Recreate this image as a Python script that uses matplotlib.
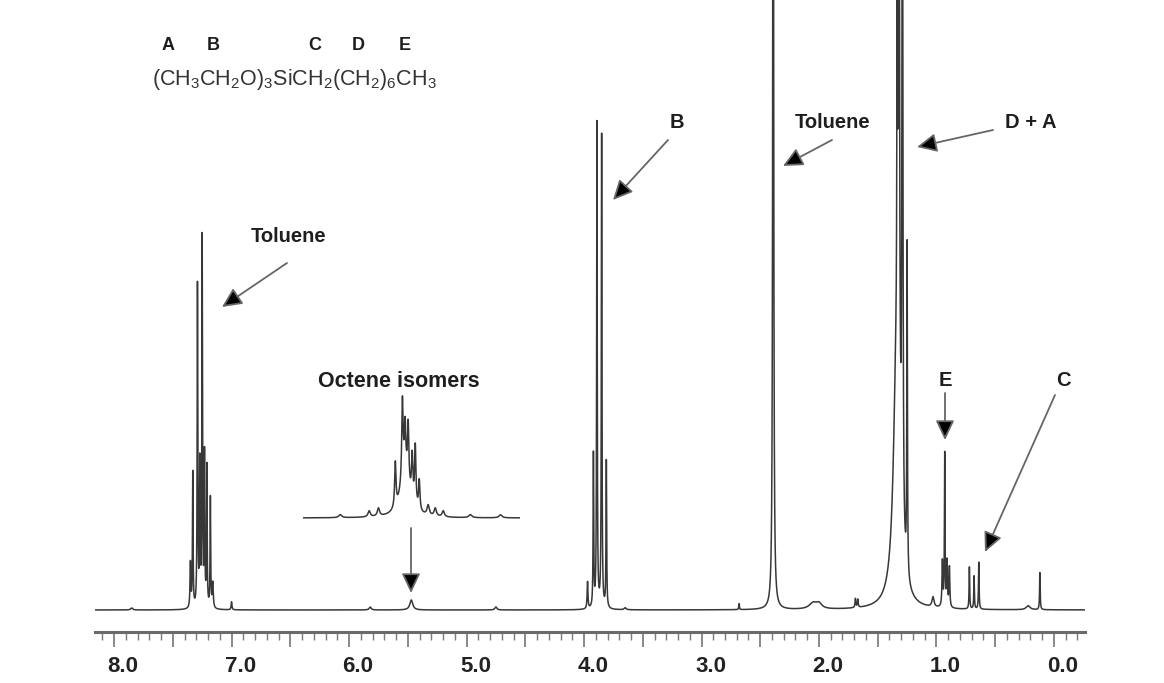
import numpy as np
import matplotlib
matplotlib.use("Agg")
import matplotlib.pyplot as plt
from matplotlib.ticker import MultipleLocator
from matplotlib.transforms import ScaledTranslation

plt.rcParams['font.family'] = ['Liberation Sans', 'DejaVu Sans']
plt.rcParams['mathtext.fontset'] = 'custom'
plt.rcParams['mathtext.rm'] = 'Liberation Sans'
plt.rcParams['mathtext.it'] = 'Liberation Sans'

# peak lists: shift (ppm), height (arb.), half width (ppm)
toluene_ar_ppm = [7.35, 7.33, 7.29, 7.27, 7.25, 7.23, 7.21, 7.18, 7.16, 7.00]
toluene_ar_h = [45, 135, 322, 140, 368, 150, 140, 110, 25, 8]
toluene_ar_w = [0.004, 0.003, 0.003, 0.003, 0.003, 0.003, 0.003, 0.003, 0.005, 0.004]

b_ppm = [3.97, 3.92, 3.89, 3.85, 3.81]
b_h = [27, 153, 485, 473, 147]
b_w = [0.004, 0.003, 0.003, 0.003, 0.003]

toluene_me_ppm = [2.39]
toluene_me_h = [1200]
toluene_me_w = [0.004]

da_ppm = [1.34, 1.335, 1.32, 1.29, 1.25]
da_h = [240, 330, 1200, 900, 330]
da_w = [0.032, 0.003, 0.004, 0.004, 0.003]

e_ppm = [1.03, 0.95, 0.93, 0.91, 0.89]
e_h = [10, 45, 153, 45, 40]
e_w = [0.01, 0.004, 0.003, 0.004, 0.004]

c_ppm = [0.72, 0.68, 0.64]
c_h = [42, 33, 47]
c_w = [0.003, 0.003, 0.003]

minor_ppm = [7.85, 5.82, 5.47, 4.75, 3.65, 2.68, 2.05, 2.00, 1.69, 1.67, 0.22, 0.12]
minor_h = [2, 3, 10, 3, 2, 6, 6, 5, 9, 8, 4, 37]
minor_w = [0.01, 0.01, 0.015, 0.01, 0.01, 0.003, 0.04, 0.03, 0.004, 0.004, 0.02, 0.003]

# expanded octene region (inset)
oct_ppm = [5.611, 5.546, 5.525, 5.487, 5.471, 5.465, 5.465, 5.458, 5.449, 5.442, 5.433,
           5.413, 5.397, 5.379, 5.318, 5.25]
oct_h = [3, 6, 8, 45, 80, 45, 45, 58, 44, 60, 30, 10, 8, 6, 3, 3]
oct_w = [0.004, 0.003, 0.003, 0.0018, 0.0018, 0.0018, 0.012, 0.0018, 0.0018, 0.0018,
         0.0018, 0.003, 0.003, 0.003, 0.004, 0.004]


def lorentz_sum(x, centers, heights, widths):
    y = np.zeros_like(x)
    for c, h, w in zip(centers, heights, widths):
        y += h / (1.0 + ((x - c) / w) ** 2)
    return y


ppm = np.linspace(8.2, -0.3, 80000)
spec = np.zeros_like(ppm)
for c, h, w in [(toluene_ar_ppm, toluene_ar_h, toluene_ar_w),
                (b_ppm, b_h, b_w),
                (toluene_me_ppm, toluene_me_h, toluene_me_w),
                (da_ppm, da_h, da_w),
                (e_ppm, e_h, e_w),
                (c_ppm, c_h, c_w),
                (minor_ppm, minor_h, minor_w)]:
    spec += lorentz_sum(ppm, c, h, w)

W, H = 1164, 683
fig = plt.figure(figsize=(W / 100, H / 100), dpi=100)
ax = fig.add_axes([95 / W, 51 / H, 990 / W, 632 / H])
ax.plot(ppm, spec, color='#383838', lw=1.1)
ax.set_xlim(8.162, -0.264)
ax.set_ylim(-22, 610)

for s in ['top', 'left', 'right']:
    ax.spines[s].set_visible(False)
ax.spines['bottom'].set_color('#6a6a6a')
ax.spines['bottom'].set_linewidth(2.2)
ax.set_yticks([])
ax.xaxis.set_major_locator(MultipleLocator(0.5))
ax.xaxis.set_minor_locator(MultipleLocator(0.1))
ax.tick_params(axis='x', which='major', length=11, width=1.1, color='#6a6a6a',
               direction='out', pad=6)
ax.tick_params(axis='x', which='minor', length=6, width=1.0, color='#7a7a7a',
               direction='out')
ax.set_xticklabels(['' if abs(v - round(v)) > 1e-6 else f'{v:.1f}'
                    for v in ax.get_xticks()])
offset = ScaledTranslation(9 / 100, 0, fig.dpi_scale_trans)
for lab in ax.get_xticklabels():
    lab.set_fontsize(16)
    lab.set_fontweight('bold')
    lab.set_color('#222222')
    lab.set_transform(lab.get_transform() + offset)

# inset with expanded octene signals
ins = fig.add_axes([303 / W, 158 / H, 217 / W, 130 / H])
oppm = np.linspace(5.70, 5.20, 6000)
ins.plot(oppm, lorentz_sum(oppm, oct_ppm, oct_h, oct_w), color='#383838', lw=1.1)
ins.set_xlim(5.695, 5.206)
ins.set_ylim(-7, 123)
ins.axis('off')


def fp(x, y):
    return (x, H - y)


def arrow(tail, tip):
    ax.annotate('', xy=fp(*tip), xytext=fp(*tail), xycoords='figure pixels',
                textcoords='figure pixels',
                arrowprops=dict(arrowstyle='-|>,head_length=0.8,head_width=0.38',
                                mutation_scale=15, lw=1.3, facecolor='black',
                                edgecolor='#666666', shrinkA=0, shrinkB=0))


def label(x, y, s, size=14.5, weight='bold'):
    fig.text(x / W, 1 - y / H, s, ha='center', va='center', fontsize=size,
             fontweight=weight, color='#1e1e1e')


# structure with proton labels
for s, x in zip(['A', 'B', 'C', 'D', 'E'], [168, 213, 315, 358, 405]):
    label(x, 46, s, size=13)
fig.text(152 / W, 1 - 79 / H,
         r'(CH$_3$CH$_2$O)$_3$SiCH$_2$(CH$_2$)$_6$CH$_3$',
         ha='left', va='center', fontsize=15.5, color='#333333')

label(289, 237, 'Toluene')
arrow((287, 263), (222, 307))
label(399, 381, 'Octene isomers', size=15.5)
arrow((411, 528), (411, 593))
label(677, 122, 'B')
arrow((668, 140), (613, 200))
label(833, 122, 'Toluene')
arrow((832, 140), (783, 166))
label(1031, 122, 'D + A')
arrow((993, 130), (917, 147))
label(945, 380, 'E')
arrow((945, 393), (945, 440))
label(1063, 380, 'C')
arrow((1055, 395), (985, 552))

fig.savefig('out.png', dpi=100)
